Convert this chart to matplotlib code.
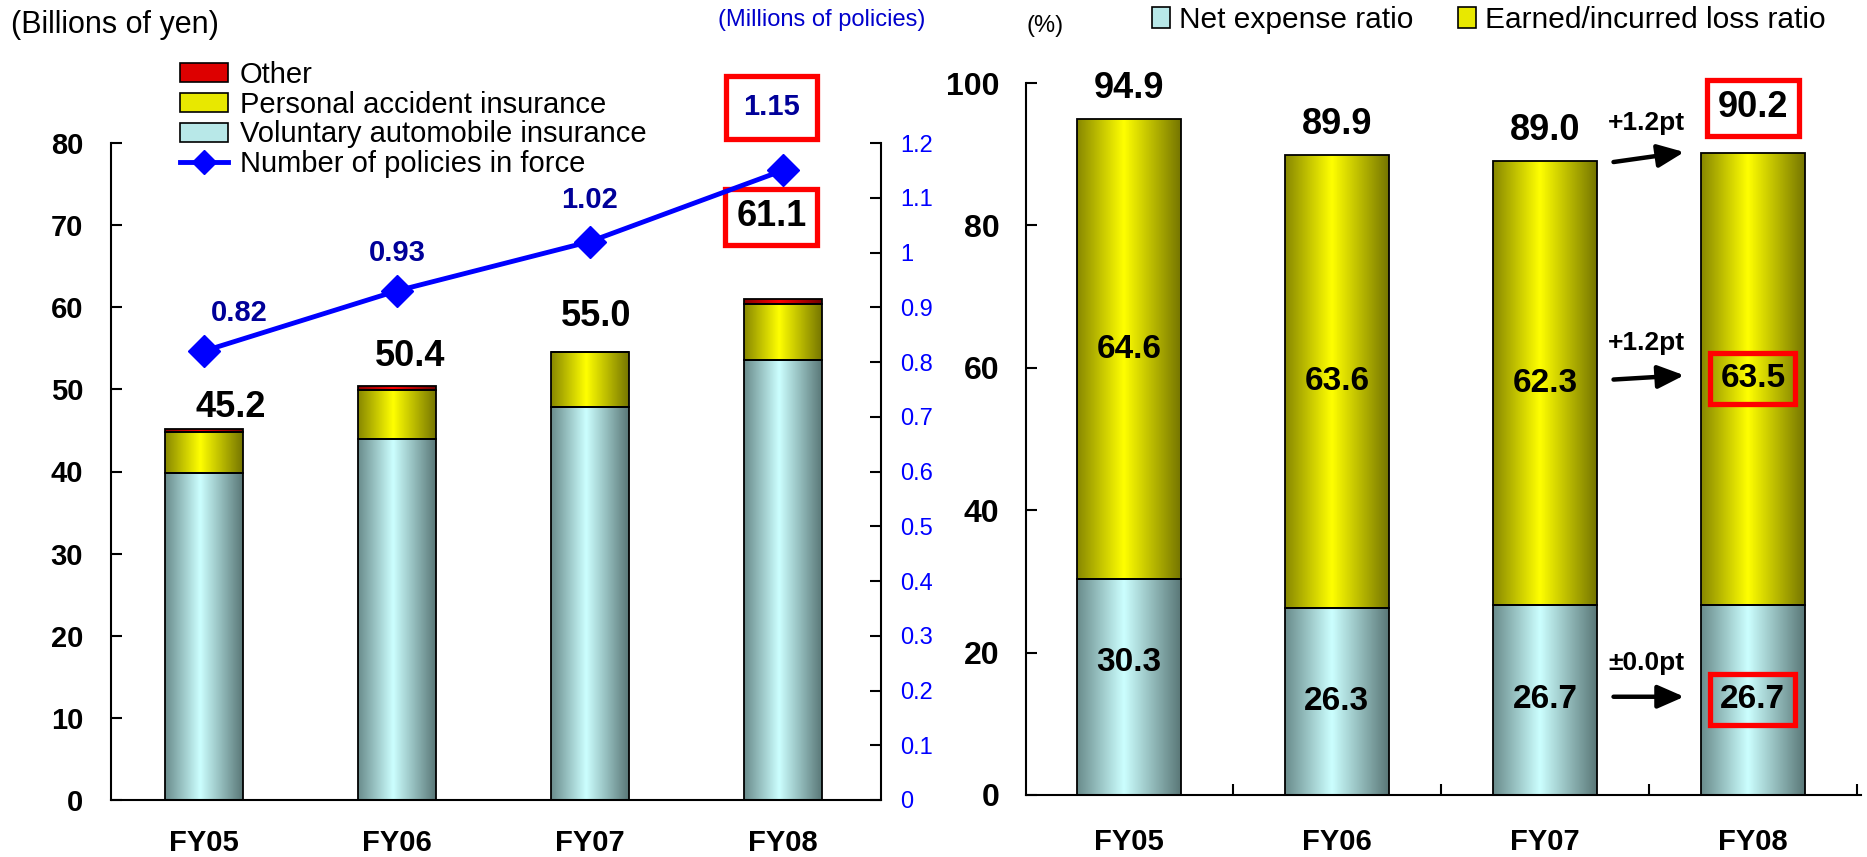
import numpy as np
import matplotlib
matplotlib.use('Agg')
import matplotlib.pyplot as plt
from matplotlib.colors import LinearSegmentedColormap
from matplotlib.lines import Line2D
from matplotlib.patches import Patch

plt.rcParams['font.family'] = ['Liberation Sans', 'DejaVu Sans']

# data
years = ['FY05', 'FY06', 'FY07', 'FY08']
auto_ins = [39.8, 44.0, 47.9, 53.6]
accident_ins = [5.0, 5.9, 6.6, 6.8]
other_ins = [0.4, 0.5, 0.0, 0.6]
premium_total = [45.2, 50.4, 55.0, 61.1]
policies = [0.82, 0.93, 1.02, 1.15]

expense_ratio = [30.3, 26.3, 26.7, 26.7]
loss_ratio = [64.6, 63.6, 62.3, 63.5]
combined_ratio = [94.9, 89.9, 89.0, 90.2]

# gradient colours (left edge, centre, right edge)
CYAN = ('#6A8C8C', '#CCFFFF', '#5A7878')
YELLOW = ('#888800', '#FFFF00', '#767600')
RED = ('#880000', '#FF0000', '#700000')
NAVY = '#000099'


def shaded_bars(ax, x, h, bottom, width, cols):
    bars = ax.bar(x, h, width, bottom=bottom, facecolor='none',
                  edgecolor='black', linewidth=1.3, zorder=3)
    cmap = LinearSegmentedColormap.from_list('g', [(0, cols[0]), (0.45, cols[1]), (1, cols[2])])
    grad = np.linspace(0, 1, 128).reshape(1, -1)
    for b in bars:
        if b.get_height() <= 0:
            continue
        x0, y0 = b.get_xy()
        im = ax.imshow(grad, cmap=cmap, aspect='auto', interpolation='bilinear',
                       extent=(x0, x0 + b.get_width(), y0, y0 + b.get_height()), zorder=2)
        im.set_clip_path(b)
    return bars


def red_box(pad):
    return dict(boxstyle=f'square,pad={pad}', fc='none', ec='#FF0000', lw=3.8)


fig = plt.figure(figsize=(18.67, 8.57), dpi=100)
W, H = 1867, 857
ax1 = fig.add_axes([111 / W, 57 / H, 770 / W, 657 / H])
ax2 = fig.add_axes([1026 / W, 62 / H, 835 / W, 712 / H])

x = np.arange(len(years))
last = len(years) - 1

# ---------- left panel: premiums + policies ----------
base2 = np.add(auto_ins, accident_ins)
shaded_bars(ax1, x, auto_ins, 0, 0.40, CYAN)
shaded_bars(ax1, x, accident_ins, auto_ins, 0.40, YELLOW)
shaded_bars(ax1, x, other_ins, base2, 0.40, RED)
ax1.set_xlim(-0.482, 3.508)
ax1.set_ylim(0, 80)

# label nudges (layout only)
total_dx = [0.14, 0.07, 0.03, -0.06]
total_gap = [2.6, 3.6, 3.9, 9.9]
for i, t in enumerate(premium_total):
    box = red_box(0.3) if i == last else None
    ax1.text(i + total_dx[i], t + total_gap[i], f'{t:.1f}', ha='center', va='center',
             fontsize=26, fontweight='bold', bbox=box, clip_on=False)

ax1.set_yticks(range(0, 81, 10))
ax1.set_yticklabels([str(v) for v in range(0, 81, 10)], fontweight='bold', fontsize=21)
ax1.tick_params(axis='y', direction='in', length=8, width=1.5, pad=20)
ax1.set_xticks(x)
ax1.set_xticklabels(years, fontweight='bold', fontsize=21)
ax1.tick_params(axis='x', length=0, pad=21)
for s in ['top', 'right']:
    ax1.spines[s].set_visible(False)
for s in ['left', 'bottom']:
    ax1.spines[s].set_linewidth(1.5)

axt = ax1.twinx()
axt.plot(x, policies, color='#0000FF', lw=3.5, marker='D', ms=16, zorder=5)
axt.set_ylim(0, 1.2)
pt = [round(v, 1) for v in np.arange(0, 1.21, 0.1)]
axt.set_yticks(pt)
axt.set_yticklabels([f'{v:g}' for v in pt], color='#0000FF', fontsize=17)
axt.tick_params(axis='y', direction='in', length=8, width=1.5, pad=14)
for s in ['top', 'left', 'bottom']:
    axt.spines[s].set_visible(False)
axt.spines['right'].set_linewidth(1.5)
pol_dx = [0.18, 0.0, 0.0, -0.06]
pol_gap = [0.07, 0.07, 0.075, 0.115]
for i, p in enumerate(policies):
    box = red_box(0.6) if i == last else None
    axt.text(i + pol_dx[i], p + pol_gap[i], f'{p:.2f}', ha='center', va='center', fontsize=21,
             fontweight='bold', color=NAVY, bbox=box, clip_on=False)

fig.text(11 / W, 1 - 25 / H, '(Billions of yen)', fontsize=22, va='center')
fig.text(718 / W, 1 - 20 / H, '(Millions of policies)', fontsize=17, va='center', color='#0000CC')

handles = [Patch(fc='#DD0000', ec='black', lw=1.2),
           Patch(fc='#E8E800', ec='black', lw=1.2),
           Patch(fc='#B8E8E8', ec='black', lw=1.2),
           Line2D([], [], color='#0000FF', lw=3.5, marker='D', ms=12)]
labels = ['Other', 'Personal accident insurance', 'Voluntary automobile insurance',
          'Number of policies in force']
fig.legend(handles, labels, loc='upper left', bbox_to_anchor=(180 / W, 1 - 61 / H),
           frameon=False, fontsize=21, handlelength=1.65, handleheight=0.62,
           handletextpad=0.4, labelspacing=0.06, borderpad=0, borderaxespad=0)

# ---------- right panel: combined ratio ----------
shaded_bars(ax2, x, expense_ratio, 0, 0.5, CYAN)
shaded_bars(ax2, x, loss_ratio, expense_ratio, 0.5, YELLOW)
ax2.set_xlim(-0.495, 3.52)
ax2.set_ylim(0, 100)

exp_shift = [3.5, 0, 0, 0]
exp_y = [e / 2 + s for e, s in zip(expense_ratio, exp_shift)]
loss_y = [e + l / 2 for e, l in zip(expense_ratio, loss_ratio)]
for i in x:
    box = red_box(0.3) if i == last else None
    ax2.text(i, exp_y[i], f'{expense_ratio[i]:.1f}', ha='center', va='center',
             fontsize=24, fontweight='bold', bbox=box)
    ax2.text(i, loss_y[i], f'{loss_ratio[i]:.1f}', ha='center', va='center',
             fontsize=24, fontweight='bold', bbox=box)
    gap = 6.3 if i == last else 4.3
    box = red_box(0.3) if i == last else None
    ax2.text(i, combined_ratio[i] + gap, f'{combined_ratio[i]:.1f}', ha='center',
             va='center', fontsize=26, fontweight='bold', bbox=box, clip_on=False)


def change_text(d):
    return '±0.0pt' if abs(d) < 0.05 else f'{d:+.1f}pt'


arrow_props = dict(arrowstyle='-|>,head_length=0.8,head_width=0.35', lw=3.2,
                   color='black', mutation_scale=20, shrinkA=0, shrinkB=0)
rows = [(combined_ratio, [combined_ratio[2] - 0.1, combined_ratio[3] + 0.1]),
        (loss_ratio, [loss_y[2] + 0.5, loss_y[3] + 0.5]),
        (expense_ratio, [exp_y[2] + 0.45, exp_y[3] + 0.45])]
for vals, (y0, y1) in rows:
    ax2.annotate('', xy=(2.67, y1), xytext=(2.33, y0), arrowprops=arrow_props)
    ax2.text(2.49, (y0 + y1) / 2 + 4.8, change_text(vals[3] - vals[2]), ha='center',
             va='center', fontsize=19, fontweight='bold')

ax2.set_yticks(range(0, 101, 20))
ax2.set_yticklabels([str(v) for v in range(0, 101, 20)], fontweight='bold', fontsize=23)
ax2.tick_params(axis='y', direction='in', length=8, width=1.5, pad=19)
ax2.set_xticks(x)
ax2.set_xticklabels(years, fontweight='bold', fontsize=21)
ax2.set_xticks([0.5, 1.5, 2.5, 3.5], minor=True)
ax2.tick_params(axis='x', which='major', length=0, pad=24)
ax2.tick_params(axis='x', which='minor', direction='in', length=8, width=1.5)
for s in ['top', 'right']:
    ax2.spines[s].set_visible(False)
for s in ['left', 'bottom']:
    ax2.spines[s].set_linewidth(1.5)

fig.text(1026 / W, 1 - 26 / H, '(%)', fontsize=17, va='center')
fig.legend([Patch(fc='#B8E8E8', ec='black', lw=1.2), Patch(fc='#E8E800', ec='black', lw=1.2)],
           ['Net expense ratio', 'Earned/incurred loss ratio'], ncol=2, loc='upper left',
           bbox_to_anchor=(1152 / W, 1 - 6 / H), frameon=False, fontsize=21.5,
           handlelength=0.6, handleheight=0.7, handletextpad=0.3, columnspacing=1.5,
           borderpad=0, borderaxespad=0)

fig.savefig('out.png', dpi=100)
